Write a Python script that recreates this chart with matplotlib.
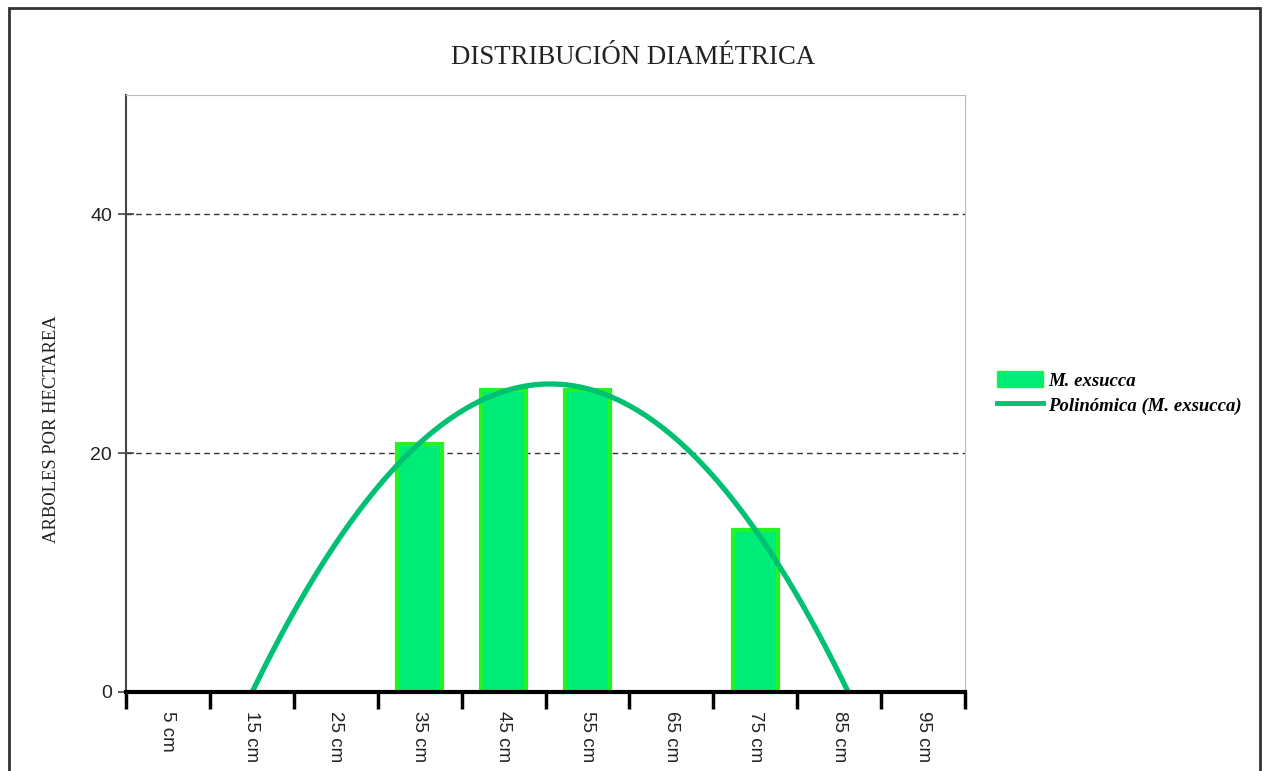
import matplotlib
matplotlib.use("Agg")
import matplotlib.pyplot as plt
import numpy as np
from matplotlib.patches import Rectangle
from matplotlib.lines import Line2D
from matplotlib.patches import Patch

# data (empty classes have no value)
clases = ["5 cm", "15 cm", "25 cm", "35 cm", "45 cm", "55 cm", "65 cm", "75 cm", "85 cm", "95 cm"]
arboles = [np.nan, np.nan, np.nan, 20.8, 25.3, 25.3, np.nan, 13.6, np.nan, np.nan]
y_ticks = [0, 20, 40]

x = np.arange(1, len(clases) + 1)
y = np.array(arboles, dtype=float)

# polynomial trendline (order 2), fitted on the classes that have a value
ok = ~np.isnan(y)
coef = np.polyfit(x[ok], y[ok], 2)
xs = np.linspace(0.5, len(clases) + 0.5, 400)
ys = np.polyval(coef, xs)

fig = plt.figure(figsize=(12.67, 7.71), dpi=100)
ax = fig.add_axes([126 / 1267, 1 - 692 / 771, (965 - 126) / 1267, (692 - 95) / 771])

bar_fill = "#00ec78"
bar_edge = "#22f522"
line_col = "#00c072"

ax.bar(x[ok], y[ok], width=0.54, color=bar_fill, edgecolor=bar_edge, linewidth=3, zorder=3)
ax.plot(xs, ys, color=line_col, linewidth=3.8, zorder=4, solid_capstyle="butt")

ax.set_xlim(0.5, len(clases) + 0.5)
ax.set_ylim(0, 50)

# y axis
ax.set_yticks(y_ticks)
ax.set_yticklabels([str(v) for v in y_ticks], fontsize=14, family="Liberation Sans", color="#222222")
ax.tick_params(axis="y", direction="inout", length=12, width=1.2, color="#444444", pad=4)
for v in y_ticks[1:]:
    ax.axhline(v, color="#333333", linestyle=(0, (4, 3)), linewidth=1, zorder=1)

# x axis: ticks on class boundaries, labels at class centres
ax.set_xticks(np.arange(0.5, len(clases) + 1, 1))
ax.set_xticklabels([])
ax.tick_params(axis="x", which="major", direction="out", length=12, width=2.5, color="black")
ax.set_xticks(x, minor=True)
ax.set_xticklabels(clases, minor=True, rotation=-90, fontsize=13.5, family="Liberation Sans", color="#222222")
ax.tick_params(axis="x", which="minor", length=0, pad=14)

ax.spines["bottom"].set_linewidth(3)
ax.spines["bottom"].set_color("black")
ax.spines["left"].set_color("#444444")
ax.spines["left"].set_linewidth(1.5)
ax.spines["top"].set_color("#bbbbbb")
ax.spines["right"].set_color("#bbbbbb")
ax.spines["bottom"].set_zorder(5)

fig.text(633 / 1267, 1 - 57 / 771, "DISTRIBUCIÓN DIAMÉTRICA", ha="center", va="center",
         fontsize=19.3, family="Liberation Serif", color="#222222")
fig.text(52 / 1267, 1 - 429 / 771, "ARBOLES POR HECTAREA", ha="center", va="center",
         rotation=90, fontsize=13.4, family="Liberation Serif", color="#222222")

handles = [Patch(facecolor=bar_fill, edgecolor=bar_edge, linewidth=1),
           Line2D([0], [0], color=line_col, linewidth=3.5)]
leg = fig.legend(handles, ["M. exsucca", "Polinómica (M. exsucca)"], loc="center left",
                 bbox_to_anchor=(980 / 1267, 1 - 393 / 771), frameon=False,
                 prop={"family": "Liberation Serif", "style": "italic", "weight": "bold", "size": 13.5},
                 handlelength=2.45, handleheight=0.9, handletextpad=0.27, labelspacing=0.35)

# outer frame of the chart
fig.patches.append(Rectangle((9 / 1267, -0.05), (1260 - 9) / 1267, 1.05 - 8 / 771,
                             transform=fig.transFigure, fill=False, edgecolor="#333333", linewidth=2))

fig.savefig("out.png", dpi=100)
